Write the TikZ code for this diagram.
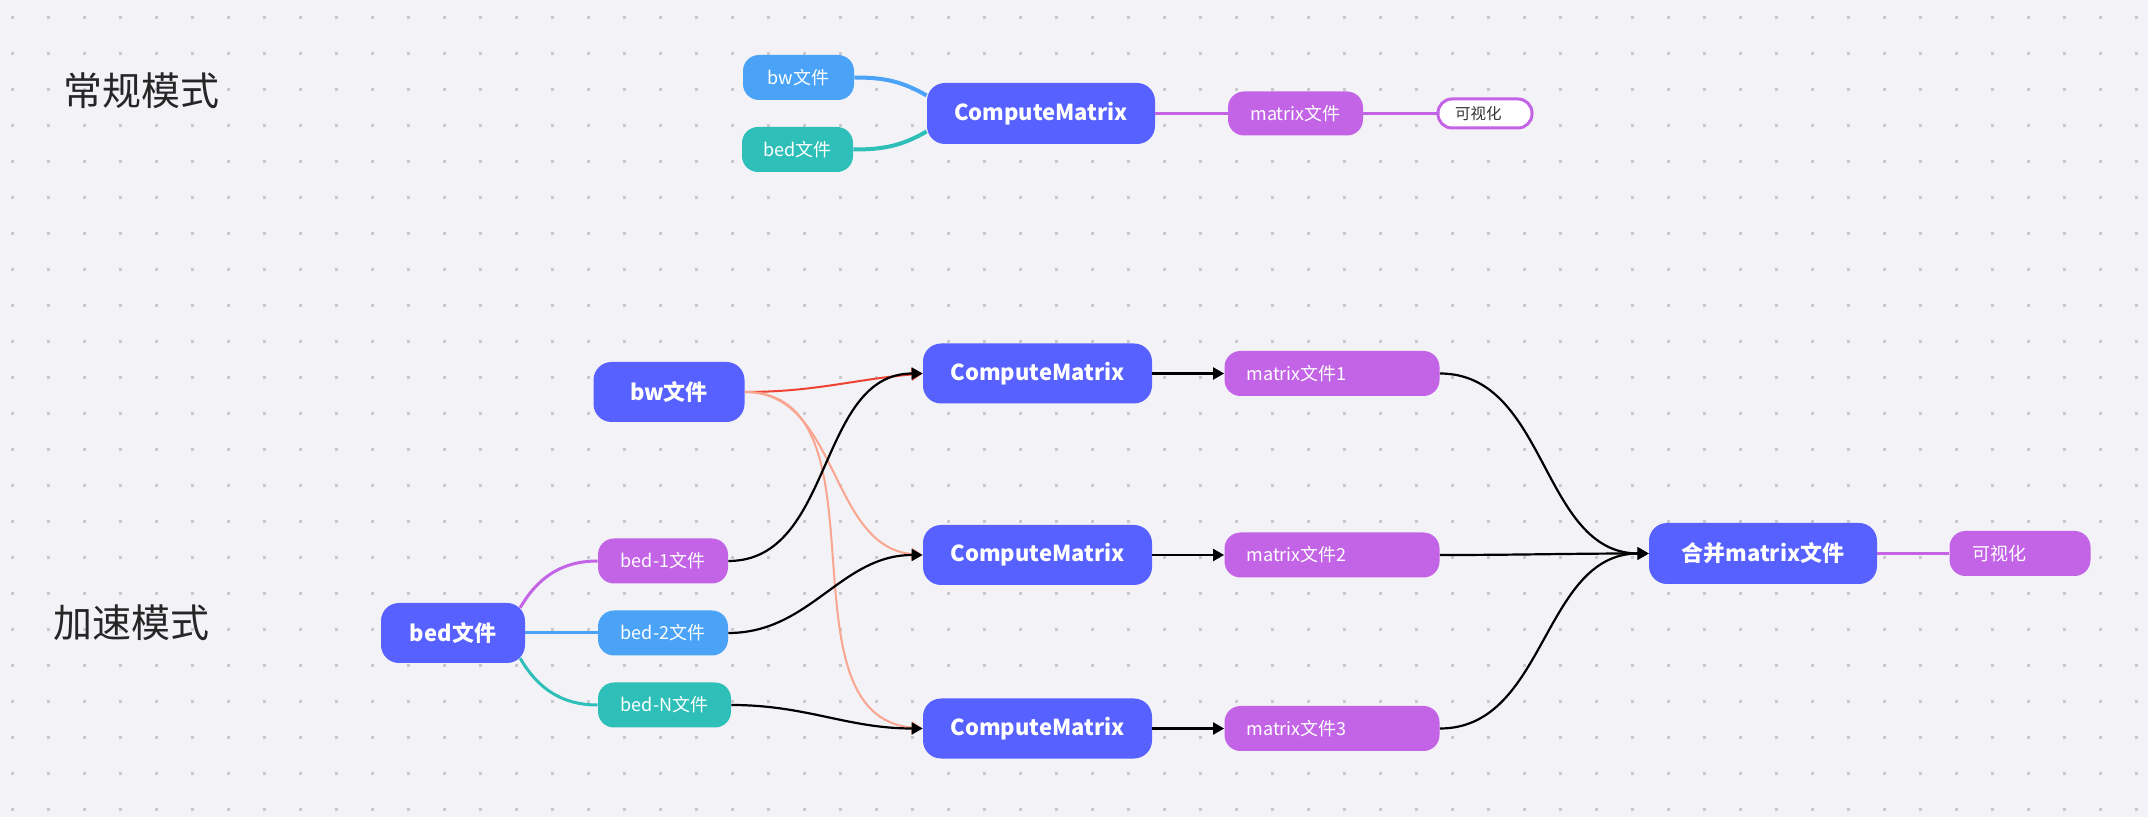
\documentclass[tikz,border=0pt]{standalone}
\usepackage{fontspec}
\setmainfont{Noto Sans CJK SC}
\usepackage{tikz}
\usetikzlibrary{arrows.meta,positioning}

\definecolor{bgc}{HTML}{F3F2F6}
\definecolor{dotc}{HTML}{C9C9CE}
\definecolor{indigo}{HTML}{5661FF}
\definecolor{skyb}{HTML}{4AA3F7}
\definecolor{tealc}{HTML}{2EBFB8}
\definecolor{violc}{HTML}{C364E6}
\definecolor{redc}{HTML}{F04232}
\definecolor{salmc}{HTML}{F9A58F}

\begin{document}
\begin{tikzpicture}[x=0.5pt,y=-0.5pt]
	\tikzstyle{Nb} = [fill=indigo,text=white,font=\bfseries\fontsize{11}{13}\selectfont,rounded corners=9pt,minimum width=114.5pt,minimum height=30pt,inner sep=0pt]
	\tikzstyle{Ns} = [text=white,font=\fontsize{9}{11}\selectfont,rounded corners=8pt,minimum height=22.5pt,inner sep=0pt]
	\tikzstyle{Nm} = [Ns,fill=violc,align=left,inner xsep=11pt,text width=85.5pt]
	\tikzstyle{Nt} = [text=black!85,font=\fontsize{19.5}{22}\selectfont]
	\tikzstyle{ar} = [-{Triangle[length=5.5pt,width=6pt]},line width=1.1pt]
	% background with dot grid
	\fill[bgc] (0,0) rectangle (2148,817);
	\foreach \i in {0,...,59}
		\foreach \j in {0,...,22}
			\fill[dotc] (11.2+36*\i,15.8+36*\j) rectangle ++(3,3);

	% normal mode
	\node[Nt](normal) at (141,91) {常规模式};
	\node[Nb,minimum width=114pt,minimum height=30.5pt](cmT) at (1041,113.5) {ComputeMatrix};
	\node[Ns,fill=skyb,minimum width=55.5pt](bwT) at (798.5,77.5) {bw文件};
	\node[Ns,fill=tealc,minimum width=55.5pt,below of=bwT,node distance=36pt,xshift=-0.5pt](bedT) {bed文件};
	\node[Ns,fill=violc,minimum width=67.5pt,minimum height=22pt,right of=cmT,node distance=127.25pt](mfT) {matrix文件};
	\node[draw=violc,line width=1.5pt,fill=white,text=black!80,font=\fontsize{7.75}{9}\selectfont,rounded corners=7pt,minimum height=14.5pt,inner sep=0pt,inner xsep=8.5pt,text width=30pt,align=left,right of=mfT,node distance=94.75pt](visT) {可视化};
	\draw[skyb,line width=2pt](bwT.east) to[out=0,in=150] ([yshift=9pt]cmT.west);
	\draw[tealc,line width=2pt](bedT.east) to[out=0,in=210] ([yshift=-9pt]cmT.west);
	\draw[violc,line width=1.5pt](cmT) -- (mfT);
	\draw[violc,line width=1.5pt](mfT) -- (visT);

	% accelerated mode
	\node[Nt](fast) at (132,623) {加速模式};
	\node[Nb](cm2) at (1037.5,555) {ComputeMatrix};
	\node[Nb,above of=cm2,node distance=90.75pt](cm1) {ComputeMatrix};
	\node[Nb,below of=cm2,node distance=86.75pt](cm3) {ComputeMatrix};
	\node[Nm,right of=cm1,node distance=147.25pt](m1) {matrix文件1};
	\node[Nm,right of=cm2,node distance=147.25pt](m2) {matrix文件2};
	\node[Nm,right of=cm3,node distance=147.25pt](m3) {matrix文件3};
	\node[Nb,minimum width=114pt,minimum height=30.5pt](merge) at (1763,553.5) {合并matrix文件};
	\node[Ns,fill=violc,align=left,inner xsep=11.5pt,text width=47.5pt,right of=merge,node distance=128.5pt](vis) {可视化};
	\node[Nb,minimum width=75.5pt](bw) at (669,392) {bw文件};
	\node[Nb,minimum width=72pt](bed) at (453,633) {bed文件};
	\node[Ns,fill=skyb,minimum width=65pt,right of=bed,node distance=105pt](bed2) {bed-2文件};
	\node[Ns,fill=violc,minimum width=65pt,above of=bed2,node distance=36pt](bed1) {bed-1文件};
	\node[Ns,fill=tealc,minimum width=66.5pt,below of=bed2,node distance=36pt,xshift=0.75pt](bedN) {bed-N文件};

	\draw[violc,line width=1.5pt]([xshift=-2.64pt,yshift=-2.64pt]bed.north east) to[out=60,in=180] (bed1.west);
	\draw[skyb,line width=1.5pt](bed) -- (bed2);
	\draw[tealc,line width=1.5pt]([xshift=-2.64pt,yshift=2.64pt]bed.south east) to[out=-60,in=180] (bedN.west);
	\draw[ar,redc,line width=1pt](bw.east) to[out=0,in=185] (cm1.west);
	\draw[ar,salmc,line width=1pt](bw.east) to[out=0,in=175] (cm2.west);
	\draw[ar,salmc,line width=1pt](bw.east) to[out=0,in=175] (cm3.west);
	\draw[ar](bed1.east) to[out=0,in=180] (cm1.west);
	\draw[ar](bed2.east) to[out=0,in=180] (cm2.west);
	\draw[ar](bedN.east) to[out=0,in=180] (cm3.west);
	\draw[ar](cm1) -- (m1);
	\draw[ar](cm2) -- (m2);
	\draw[ar](cm3) -- (m3);
	\draw[ar](m1.east) to[out=0,in=180] (merge.west);
	\draw[ar](m2.east) to[out=0,in=180] (merge.west);
	\draw[ar](m3.east) to[out=0,in=180] (merge.west);
	\draw[violc,line width=1.5pt](merge) -- (vis);
\end{tikzpicture}
\end{document}
